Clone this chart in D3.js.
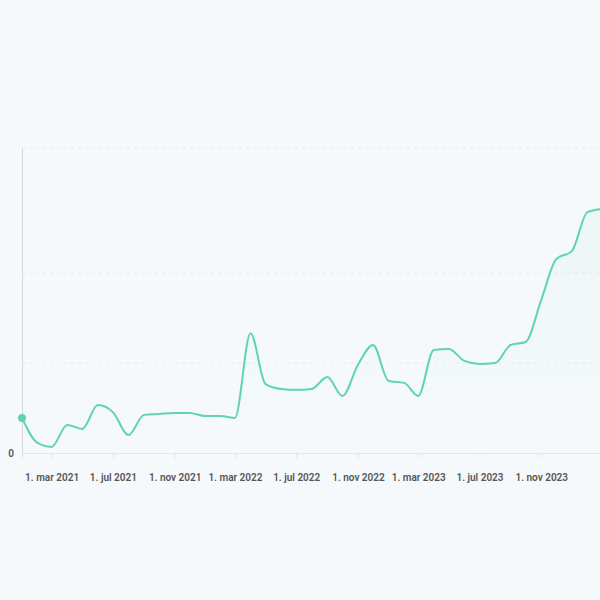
<!DOCTYPE html>
<html>
<head>
<meta charset="utf-8">
<script src="https://cdn.jsdelivr.net/npm/d3@7"></script>
<style>
  html, body { margin: 0; padding: 0; background: #f6f9fc; }
  svg { display: block; font-family: Roboto, "Open Sans", sans-serif; }
</style>
</head>
<body>
<svg id="vis" width="600" height="600"></svg>
<script>
// monthly values, Jan 2021 .. Mar 2024
const months = [
  "2021-01", "2021-02", "2021-03", "2021-04", "2021-05", "2021-06",
  "2021-07", "2021-08", "2021-09", "2021-10", "2021-11", "2021-12",
  "2022-01", "2022-02", "2022-03", "2022-04", "2022-05", "2022-06",
  "2022-07", "2022-08", "2022-09", "2022-10", "2022-11", "2022-12",
  "2023-01", "2023-02", "2023-03", "2023-04", "2023-05", "2023-06",
  "2023-07", "2023-08", "2023-09", "2023-10", "2023-11", "2023-12",
  "2024-01", "2024-02", "2024-03"
];
const values = [
  11.5, 3.3, 2.0, 9.2, 7.9, 15.7,
  13.4, 5.9, 12.5, 12.8, 13.1, 13.1,
  12.1, 12.1, 11.5, 39.3, 22.6, 21.0,
  20.7, 21.0, 24.9, 18.7, 28.9, 35.4,
  23.6, 23.0, 18.7, 33.8, 34.1, 30.2,
  29.2, 29.5, 35.4, 36.4, 50.2, 63.6,
  66.2, 79.0, 80.0
];
const yTicks = [0, 29.5, 59, 100];
const xTickDates = ["2021-03-01", "2021-07-01", "2021-11-01", "2022-03-01", "2022-07-01",
                    "2022-11-01", "2023-03-01", "2023-07-01", "2023-11-01"];
const monthNames = ["jan", "feb", "mar", "apr", "mai", "jun", "jul", "aug", "sep", "okt", "nov", "des"];

const svg = d3.select("#vis");
const parseMonth = d3.utcParse("%Y-%m");
const parseDay = d3.utcParse("%Y-%m-%d");

const data = months.map((m, i) => ({ date: parseMonth(m), value: values[i] }));

const x = d3.scaleUtc()
  .domain([parseMonth("2021-01"), parseMonth("2024-03")])
  .range([22, 602]);

const y = d3.scaleLinear()
  .domain([0, 100])
  .range([453, 148]);

// grid
svg.append("g")
  .selectAll("line")
  .data(yTicks.slice(1))
  .join("line")
  .attr("x1", 22)
  .attr("x2", 600)
  .attr("y1", d => y(d))
  .attr("y2", d => y(d))
  .attr("stroke", "#e6eaf0")
  .attr("stroke-dasharray", "3,4");

// faint area under the line
const defs = svg.append("defs");
const grad = defs.append("linearGradient")
  .attr("id", "fade")
  .attr("x1", 0).attr("y1", 0).attr("x2", 0).attr("y2", 1);
grad.append("stop").attr("offset", "0%").attr("stop-color", "#5fd4b0").attr("stop-opacity", 0.06);
grad.append("stop").attr("offset", "100%").attr("stop-color", "#5fd4b0").attr("stop-opacity", 0);

const area = d3.area()
  .x(d => x(d.date))
  .y0(y(0))
  .y1(d => y(d.value))
  .curve(d3.curveMonotoneX);

svg.append("path")
  .datum(data)
  .attr("fill", "url(#fade)")
  .attr("d", area);

// x axis
const xAxis = d3.axisBottom(x)
  .tickValues(xTickDates.map(parseDay))
  .tickSize(5)
  .tickFormat(d => `1. ${monthNames[d.getUTCMonth()]} ${d.getUTCFullYear()}`);

const gx = svg.append("g")
  .attr("transform", `translate(0, ${y(0)})`)
  .call(xAxis);
gx.select(".domain").attr("stroke", "#e3e7ec");
gx.selectAll(".tick line").attr("stroke", "#e3e7ec");
gx.selectAll(".tick text")
  .attr("y", 21)
  .attr("fill", "#555")
  .attr("font-size", 10)
  .attr("font-weight", 600)
  .attr("font-family", "Roboto, sans-serif");

// y axis
const gy = svg.append("g")
  .attr("transform", "translate(22, 0)")
  .call(d3.axisLeft(y).tickValues(yTicks).tickSize(0)
    .tickFormat(d => d === 0 ? "0" : ""));
gy.select(".domain").attr("stroke", "#d4d8de");
gy.selectAll(".tick text")
  .attr("x", -8)
  .attr("fill", "#555")
  .attr("font-size", 10)
  .attr("font-weight", 600)
  .attr("font-family", "Roboto, sans-serif");

// line
const line = d3.line()
  .x(d => x(d.date))
  .y(d => y(d.value))
  .curve(d3.curveMonotoneX);

svg.append("path")
  .datum(data)
  .attr("fill", "none")
  .attr("stroke", "#5fd4b0")
  .attr("stroke-width", 2)
  .attr("d", line);

// first point marker
svg.append("circle")
  .attr("cx", x(data[0].date))
  .attr("cy", y(data[0].value))
  .attr("r", 4)
  .attr("fill", "#5fd4b0");
</script>
</body>
</html>
